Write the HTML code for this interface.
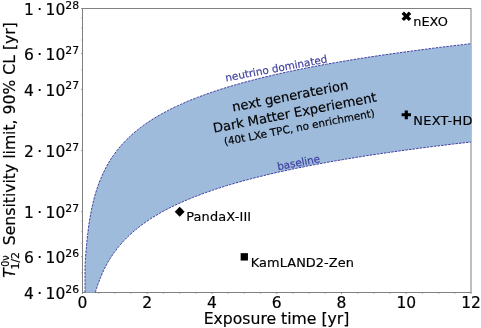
<!DOCTYPE html>
<html><head><meta charset="utf-8"><title>Sensitivity</title>
<style>
html,body{margin:0;padding:0;background:#fff;}
svg{display:block;font-family:"DejaVu Sans","Liberation Sans",sans-serif;}
</style></head><body>
<svg width="481" height="328" viewBox="0 0 481 328">
<rect width="481" height="328" fill="#fff"/>
<rect x="82.5" y="8.5" width="388.5" height="284.0" fill="none" stroke="#808080" stroke-width="1"/>
<g stroke="#808080" stroke-width="0.8"><line x1="82.50" y1="292.5" x2="82.50" y2="294.0"/><line x1="98.69" y1="292.5" x2="98.69" y2="293.6"/><line x1="114.88" y1="292.5" x2="114.88" y2="293.6"/><line x1="131.06" y1="292.5" x2="131.06" y2="293.6"/><line x1="147.25" y1="292.5" x2="147.25" y2="294.0"/><line x1="163.44" y1="292.5" x2="163.44" y2="293.6"/><line x1="179.62" y1="292.5" x2="179.62" y2="293.6"/><line x1="195.81" y1="292.5" x2="195.81" y2="293.6"/><line x1="212.00" y1="292.5" x2="212.00" y2="294.0"/><line x1="228.19" y1="292.5" x2="228.19" y2="293.6"/><line x1="244.38" y1="292.5" x2="244.38" y2="293.6"/><line x1="260.56" y1="292.5" x2="260.56" y2="293.6"/><line x1="276.75" y1="292.5" x2="276.75" y2="294.0"/><line x1="292.94" y1="292.5" x2="292.94" y2="293.6"/><line x1="309.12" y1="292.5" x2="309.12" y2="293.6"/><line x1="325.31" y1="292.5" x2="325.31" y2="293.6"/><line x1="341.50" y1="292.5" x2="341.50" y2="294.0"/><line x1="357.69" y1="292.5" x2="357.69" y2="293.6"/><line x1="373.88" y1="292.5" x2="373.88" y2="293.6"/><line x1="390.06" y1="292.5" x2="390.06" y2="293.6"/><line x1="406.25" y1="292.5" x2="406.25" y2="294.0"/><line x1="422.44" y1="292.5" x2="422.44" y2="293.6"/><line x1="438.62" y1="292.5" x2="438.62" y2="293.6"/><line x1="454.81" y1="292.5" x2="454.81" y2="293.6"/><line x1="471.00" y1="292.5" x2="471.00" y2="294.0"/><line x1="82.5" y1="272.81" x2="81.40" y2="272.81"/><line x1="82.5" y1="256.73" x2="81.00" y2="256.73"/><line x1="82.5" y1="243.13" x2="81.40" y2="243.13"/><line x1="82.5" y1="231.34" x2="81.40" y2="231.34"/><line x1="82.5" y1="220.95" x2="81.40" y2="220.95"/><line x1="82.5" y1="211.66" x2="81.00" y2="211.66"/><line x1="82.5" y1="150.50" x2="81.00" y2="150.50"/><line x1="82.5" y1="114.73" x2="81.40" y2="114.73"/><line x1="82.5" y1="89.34" x2="81.00" y2="89.34"/><line x1="82.5" y1="69.66" x2="81.40" y2="69.66"/><line x1="82.5" y1="53.57" x2="81.00" y2="53.57"/><line x1="82.5" y1="39.97" x2="81.40" y2="39.97"/><line x1="82.5" y1="28.19" x2="81.40" y2="28.19"/><line x1="82.5" y1="17.80" x2="81.40" y2="17.80"/><line x1="82.5" y1="8.5" x2="81.00" y2="8.5"/></g>
<path d="M85.0,292.5 85.0,291.6 85.0,289.2 85.0,285.4 85.0,280.5 85.0,275.0 85.0,269.1 85.2,262.9 85.6,256.8 86.1,250.7 86.6,244.8 87.1,239.1 87.8,233.6 88.4,228.2 89.1,223.1 89.9,218.3 90.8,213.6 91.6,209.1 92.6,204.8 93.6,200.6 94.6,196.6 95.7,192.8 96.9,189.1 98.1,185.5 99.4,182.1 100.7,178.8 102.1,175.6 103.5,172.5 105.0,169.5 106.5,166.5 108.1,163.7 109.7,161.0 111.4,158.3 113.2,155.7 115.0,153.2 116.8,150.8 118.7,148.4 120.7,146.0 122.7,143.8 124.8,141.6 126.9,139.4 129.1,137.3 131.3,135.2 133.6,133.2 135.9,131.2 138.3,129.3 140.8,127.4 143.3,125.5 145.8,123.7 148.4,122.0 151.1,120.2 153.8,118.5 156.6,116.8 159.4,115.2 162.3,113.5 165.2,112.0 168.2,110.4 171.2,108.8 174.3,107.3 177.5,105.9 180.7,104.4 183.9,103.0 187.2,101.5 190.6,100.1 194.0,98.8 197.5,97.4 201.0,96.1 204.6,94.8 208.2,93.5 211.9,92.2 215.6,91.0 219.4,89.7 223.2,88.5 227.1,87.3 231.1,86.1 235.1,84.9 239.2,83.8 243.3,82.6 247.4,81.5 251.7,80.4 255.9,79.3 260.3,78.2 264.6,77.1 269.1,76.1 273.6,75.0 278.1,74.0 282.7,72.9 287.4,71.9 292.1,70.9 296.8,69.9 301.6,69.0 306.5,68.0 311.4,67.0 316.4,66.1 321.4,65.1 326.5,64.2 331.6,63.3 336.8,62.4 342.1,61.5 347.4,60.6 352.7,59.7 358.1,58.8 363.6,58.0 369.1,57.1 374.7,56.3 380.3,55.4 385.9,54.6 391.7,53.8 397.4,53.0 403.3,52.2 409.2,51.4 415.1,50.6 421.1,49.8 427.2,49.0 433.3,48.2 439.4,47.4 445.6,46.7 451.9,45.9 458.2,45.2 464.6,44.4 471.0,43.7 L471.0,142.0 464.8,142.7 458.6,143.4 452.5,144.1 446.4,144.9 440.3,145.6 434.4,146.3 428.4,147.1 422.6,147.8 416.8,148.6 411.0,149.4 405.3,150.1 399.6,150.9 394.0,151.7 388.5,152.5 382.9,153.3 377.5,154.1 372.1,154.9 366.7,155.7 361.4,156.6 356.2,157.4 351.0,158.3 345.9,159.1 340.8,160.0 335.8,160.8 330.8,161.7 325.8,162.6 321.0,163.5 316.1,164.4 311.4,165.3 306.6,166.2 302.0,167.2 297.3,168.1 292.8,169.0 288.3,170.0 283.8,171.0 279.4,171.9 275.0,172.9 270.7,173.9 266.5,174.9 262.3,176.0 258.1,177.0 254.0,178.0 250.0,179.1 246.0,180.1 242.1,181.2 238.2,182.3 234.3,183.4 230.6,184.5 226.8,185.6 223.1,186.8 219.5,187.9 215.9,189.1 212.4,190.3 209.0,191.5 205.5,192.7 202.2,193.9 198.9,195.2 195.6,196.4 192.4,197.7 189.2,199.0 186.1,200.3 183.1,201.6 180.1,202.9 177.1,204.3 174.2,205.6 171.4,207.0 168.6,208.4 165.9,209.9 163.2,211.3 160.5,212.8 157.9,214.3 155.4,215.8 152.9,217.3 150.5,218.8 148.1,220.4 145.8,222.0 143.5,223.6 141.3,225.2 139.2,226.9 137.0,228.6 135.0,230.3 133.0,232.0 131.0,233.7 129.1,235.5 127.3,237.3 125.5,239.1 123.7,240.9 122.0,242.8 120.4,244.7 118.8,246.6 117.2,248.5 115.8,250.4 114.3,252.3 112.9,254.3 111.6,256.3 110.3,258.3 109.1,260.2 107.9,262.2 106.8,264.2 105.7,266.2 104.7,268.2 103.8,270.1 102.8,272.1 102.0,274.0 101.2,275.9 100.4,277.7 99.7,279.4 99.1,281.2 98.5,282.8 97.9,284.3 97.4,285.8 97.0,287.1 96.6,288.3 96.2,289.4 96.0,290.3 95.7,291.1 95.5,291.7 95.4,292.1 95.3,292.4 95.3,292.5Z" fill="#9fbbdb"/>
<path d="M85.0,292.5 85.0,291.6 85.0,289.2 85.0,285.4 85.0,280.5 85.0,275.0 85.0,269.1 85.2,262.9 85.6,256.8 86.1,250.7 86.6,244.8 87.1,239.1 87.8,233.6 88.4,228.2 89.1,223.1 89.9,218.3 90.8,213.6 91.6,209.1 92.6,204.8 93.6,200.6 94.6,196.6 95.7,192.8 96.9,189.1 98.1,185.5 99.4,182.1 100.7,178.8 102.1,175.6 103.5,172.5 105.0,169.5 106.5,166.5 108.1,163.7 109.7,161.0 111.4,158.3 113.2,155.7 115.0,153.2 116.8,150.8 118.7,148.4 120.7,146.0 122.7,143.8 124.8,141.6 126.9,139.4 129.1,137.3 131.3,135.2 133.6,133.2 135.9,131.2 138.3,129.3 140.8,127.4 143.3,125.5 145.8,123.7 148.4,122.0 151.1,120.2 153.8,118.5 156.6,116.8 159.4,115.2 162.3,113.5 165.2,112.0 168.2,110.4 171.2,108.8 174.3,107.3 177.5,105.9 180.7,104.4 183.9,103.0 187.2,101.5 190.6,100.1 194.0,98.8 197.5,97.4 201.0,96.1 204.6,94.8 208.2,93.5 211.9,92.2 215.6,91.0 219.4,89.7 223.2,88.5 227.1,87.3 231.1,86.1 235.1,84.9 239.2,83.8 243.3,82.6 247.4,81.5 251.7,80.4 255.9,79.3 260.3,78.2 264.6,77.1 269.1,76.1 273.6,75.0 278.1,74.0 282.7,72.9 287.4,71.9 292.1,70.9 296.8,69.9 301.6,69.0 306.5,68.0 311.4,67.0 316.4,66.1 321.4,65.1 326.5,64.2 331.6,63.3 336.8,62.4 342.1,61.5 347.4,60.6 352.7,59.7 358.1,58.8 363.6,58.0 369.1,57.1 374.7,56.3 380.3,55.4 385.9,54.6 391.7,53.8 397.4,53.0 403.3,52.2 409.2,51.4 415.1,50.6 421.1,49.8 427.2,49.0 433.3,48.2 439.4,47.4 445.6,46.7 451.9,45.9 458.2,45.2 464.6,44.4 471.0,43.7" fill="none" stroke="#3f3f9f" stroke-width="1" stroke-dasharray="2.5 1.1"/>
<path d="M95.3,292.5 95.3,292.4 95.4,292.1 95.5,291.7 95.7,291.1 96.0,290.3 96.2,289.4 96.6,288.3 97.0,287.1 97.4,285.8 97.9,284.3 98.5,282.8 99.1,281.2 99.7,279.4 100.4,277.7 101.2,275.9 102.0,274.0 102.8,272.1 103.8,270.1 104.7,268.2 105.7,266.2 106.8,264.2 107.9,262.2 109.1,260.2 110.3,258.3 111.6,256.3 112.9,254.3 114.3,252.3 115.8,250.4 117.2,248.5 118.8,246.6 120.4,244.7 122.0,242.8 123.7,240.9 125.5,239.1 127.3,237.3 129.1,235.5 131.0,233.7 133.0,232.0 135.0,230.3 137.0,228.6 139.2,226.9 141.3,225.2 143.5,223.6 145.8,222.0 148.1,220.4 150.5,218.8 152.9,217.3 155.4,215.8 157.9,214.3 160.5,212.8 163.2,211.3 165.9,209.9 168.6,208.4 171.4,207.0 174.2,205.6 177.1,204.3 180.1,202.9 183.1,201.6 186.1,200.3 189.2,199.0 192.4,197.7 195.6,196.4 198.9,195.2 202.2,193.9 205.5,192.7 209.0,191.5 212.4,190.3 215.9,189.1 219.5,187.9 223.1,186.8 226.8,185.6 230.6,184.5 234.3,183.4 238.2,182.3 242.1,181.2 246.0,180.1 250.0,179.1 254.0,178.0 258.1,177.0 262.3,176.0 266.5,174.9 270.7,173.9 275.0,172.9 279.4,171.9 283.8,171.0 288.3,170.0 292.8,169.0 297.3,168.1 302.0,167.2 306.6,166.2 311.4,165.3 316.1,164.4 321.0,163.5 325.8,162.6 330.8,161.7 335.8,160.8 340.8,160.0 345.9,159.1 351.0,158.3 356.2,157.4 361.4,156.6 366.7,155.7 372.1,154.9 377.5,154.1 382.9,153.3 388.5,152.5 394.0,151.7 399.6,150.9 405.3,150.1 411.0,149.4 416.8,148.6 422.6,147.8 428.4,147.1 434.4,146.3 440.3,145.6 446.4,144.9 452.5,144.1 458.6,143.4 464.8,142.7 471.0,142.0" fill="none" stroke="#3f3f9f" stroke-width="1" stroke-dasharray="2.5 1.1"/>
<g fill="#000"><polygon points="401.55,13.90 403.97,11.50 406.40,13.90 408.82,11.50 411.25,13.90 408.82,16.30 411.25,18.70 408.82,21.10 406.40,18.70 403.97,21.10 401.55,18.70 403.97,16.30"/><polygon points="401.60,113.33 404.73,113.33 404.73,110.40 407.87,110.40 407.87,113.33 411.00,113.33 411.00,116.27 407.87,116.27 407.87,119.20 404.73,119.20 404.73,116.27 401.60,116.27"/><polygon points="174.75,211.80 179.70,206.85 184.65,211.80 179.70,216.75"/><polygon points="240.65,253.15 247.95,253.15 247.95,260.55 240.65,260.55"/></g>
<g fill="#000" stroke="#000" stroke-width="0.18"><text transform="translate(82.50,307.50)" text-anchor="middle" font-size="15.5">0</text><text transform="translate(147.25,307.50)" text-anchor="middle" font-size="15.5">2</text><text transform="translate(212.00,307.50)" text-anchor="middle" font-size="15.5">4</text><text transform="translate(276.75,307.50)" text-anchor="middle" font-size="15.5">6</text><text transform="translate(341.50,307.50)" text-anchor="middle" font-size="15.5">8</text><text transform="translate(406.25,307.50)" text-anchor="middle" font-size="15.5">10</text><text transform="translate(471.00,307.50)" text-anchor="middle" font-size="15.5">12</text><text transform="translate(79.10,298.70)" text-anchor="end" font-size="15.5">4<tspan dx="3.4">·</tspan><tspan dx="3.4">10</tspan><tspan dy="-6.05" font-size="10.85">26</tspan></text><text transform="translate(79.10,262.93)" text-anchor="end" font-size="15.5">6<tspan dx="3.4">·</tspan><tspan dx="3.4">10</tspan><tspan dy="-6.05" font-size="10.85">26</tspan></text><text transform="translate(79.10,217.86)" text-anchor="end" font-size="15.5">1<tspan dx="3.4">·</tspan><tspan dx="3.4">10</tspan><tspan dy="-6.05" font-size="10.85">27</tspan></text><text transform="translate(79.10,156.70)" text-anchor="end" font-size="15.5">2<tspan dx="3.4">·</tspan><tspan dx="3.4">10</tspan><tspan dy="-6.05" font-size="10.85">27</tspan></text><text transform="translate(79.10,95.54)" text-anchor="end" font-size="15.5">4<tspan dx="3.4">·</tspan><tspan dx="3.4">10</tspan><tspan dy="-6.05" font-size="10.85">27</tspan></text><text transform="translate(79.10,59.77)" text-anchor="end" font-size="15.5">6<tspan dx="3.4">·</tspan><tspan dx="3.4">10</tspan><tspan dy="-6.05" font-size="10.85">27</tspan></text><text transform="translate(79.10,14.70)" text-anchor="end" font-size="15.5">1<tspan dx="3.4">·</tspan><tspan dx="3.4">10</tspan><tspan dy="-6.05" font-size="10.85">28</tspan></text><text transform="translate(276.50,324.00)" text-anchor="middle" font-size="15.65">Exposure time [yr]</text><text transform="translate(413.20,26.20)" letter-spacing="0.05" font-size="12.9">nEXO</text><text transform="translate(413.20,125.00)" letter-spacing="0.33" font-size="12.9">NEXT-HD</text><text transform="translate(186.20,221.30)" letter-spacing="0.15" font-size="12.9">PandaX-III</text><text transform="translate(250.80,266.90)" letter-spacing="0.07" font-size="12.9">KamLAND2-Zen</text><text transform="translate(276.90,71.90) rotate(-10.70)" text-anchor="middle" fill="#3f3f9f" stroke="#3f3f9f" font-size="10.45">neutrino dominated</text><text transform="translate(299.25,166.10) rotate(-10.90)" text-anchor="middle" fill="#3f3f9f" stroke="#3f3f9f" font-size="10.4">baseline</text><text transform="translate(290.95,100.40) rotate(-10.90)" text-anchor="middle" font-size="13.1">next generaterion</text><text transform="translate(295.50,117.10) rotate(-10.90)" text-anchor="middle" font-size="13.1">Dark Matter Experiement</text><text transform="translate(300.00,130.85) rotate(-10.90)" text-anchor="middle" font-size="10.4">(40t LXe TPC, no enrichment)</text></g>
<g transform="translate(14.7,277.4) rotate(-90) scale(1,1)" fill="#000" stroke="#000" stroke-width="0.18" font-size="15.65"><text x="-0.3" y="0" font-style="italic">T</text><text x="10.6" y="-6.0" font-size="9.70">0ν</text><text x="7.8" y="3.8" font-size="10.96">1/2</text><text x="32.2" y="0">Sensitivity limit, 90% CL [yr]</text></g>
</svg>
</body></html>
